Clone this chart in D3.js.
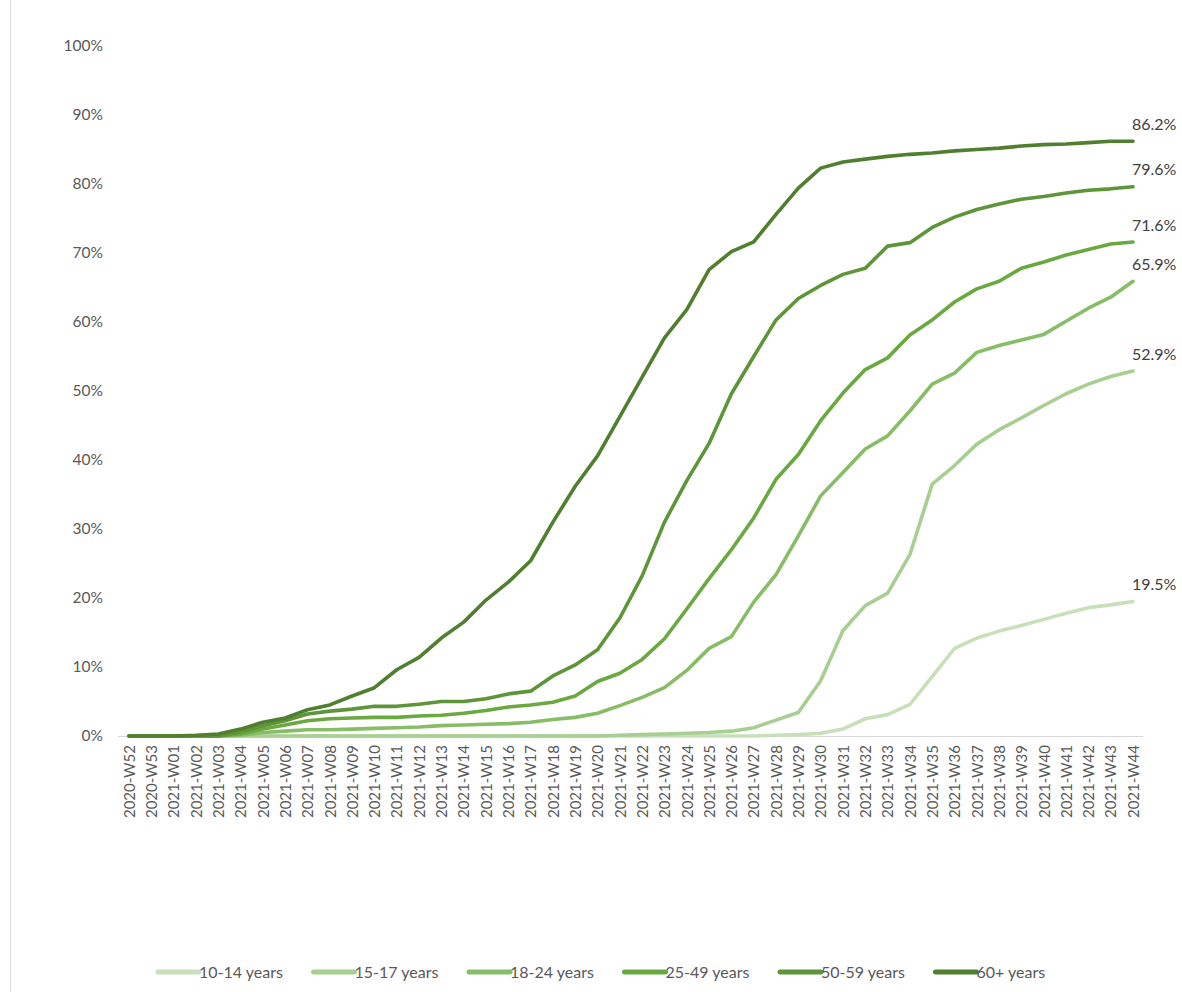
<!DOCTYPE html>
<html>
<head>
<meta charset="utf-8">
<script src="https://cdn.jsdelivr.net/npm/d3@7"></script>
<style>
  body { margin: 0; background: #fff; }
  svg { display: block; font-family: Lato, "Open Sans", sans-serif; }
</style>
</head>
<body>
<div id="chart"></div>
<script>
const weeks = ["2020-W52", "2020-W53"].concat(d3.range(1, 45).map(w => "2021-W" + String(w).padStart(2, "0")));

const groups = ["10-14 years", "15-17 years", "18-24 years", "25-49 years", "50-59 years", "60+ years"];
const colors = ["#c8e0ba", "#a8cf92", "#88bd67", "#6aa93f", "#5e9539", "#507f2f"];

const age10_14 = [0,0,0,0,0,0,0,0,0,0,0,0,0,0,0,0,0,0,0,0,0,0,0,0,0,0,0,0,0,0.1,0.2,0.4,1.0,2.5,3.1,4.6,8.6,12.7,14.2,15.2,16.0,16.9,17.8,18.6,19.0,19.5];
const age15_17 = [0,0,0,0,0,0,0,0,0,0,0,0,0,0,0,0,0,0,0,0,0,0,0.1,0.2,0.3,0.4,0.5,0.7,1.2,2.3,3.4,8.0,15.3,18.9,20.7,26.3,36.5,39.2,42.3,44.4,46.1,47.9,49.6,51.0,52.1,52.9];
const age18_24 = [0,0,0,0,0,0.1,0.5,0.7,0.9,0.9,1.0,1.1,1.2,1.3,1.5,1.6,1.7,1.8,2.0,2.4,2.7,3.3,4.4,5.6,7.0,9.5,12.7,14.4,19.4,23.4,29.0,34.8,38.2,41.6,43.5,47.1,51.0,52.6,55.6,56.6,57.4,58.2,60.1,62.0,63.6,65.9];
const age25_49 = [0,0,0,0,0,0.3,1.0,1.6,2.2,2.5,2.6,2.7,2.7,2.9,3.0,3.3,3.7,4.2,4.5,4.9,5.8,7.9,9.1,11.1,14.1,18.4,22.8,27.0,31.6,37.2,40.8,45.7,49.7,53.1,54.8,58.1,60.3,62.9,64.8,65.9,67.8,68.7,69.7,70.5,71.3,71.6];
const age50_59 = [0,0,0,0,0,0.6,1.5,2.2,3.2,3.6,3.9,4.3,4.3,4.6,5.0,5.0,5.4,6.1,6.5,8.7,10.3,12.5,17.1,23.2,31.0,37.0,42.4,49.6,55.0,60.3,63.4,65.3,66.9,67.8,71.0,71.5,73.7,75.2,76.3,77.1,77.8,78.2,78.7,79.1,79.3,79.6];
const age60p = [0,0,0,0.1,0.3,1.0,2.0,2.6,3.8,4.5,5.8,7.0,9.6,11.4,14.2,16.5,19.7,22.3,25.4,31.0,36.2,40.6,46.3,52.0,57.7,61.8,67.6,70.2,71.6,75.6,79.4,82.3,83.2,83.6,84.0,84.3,84.5,84.8,85.0,85.2,85.5,85.7,85.8,86.0,86.2,86.2];

const seriesValues = [age10_14, age15_17, age18_24, age25_49, age50_59, age60p];
const endLabels = ["19.5%", "52.9%", "65.9%", "71.6%", "79.6%", "86.2%"];
const yTicks = d3.range(0, 101, 10);

const W = 1182, H = 992;
const x0 = 129, x1 = 1133, yTop = 46, yBottom = 736;

const svg = d3.select("#chart").append("svg")
  .attr("width", W)
  .attr("height", H);

// chart area border (only left edge shows)
svg.append("line")
  .attr("x1", 10.5).attr("x2", 10.5)
  .attr("y1", 0).attr("y2", H)
  .attr("stroke", "#d9d9d9").attr("stroke-width", 1);

const x = d3.scalePoint().domain(weeks).range([x0, x1]);
const y = d3.scaleLinear().domain([0, 100]).range([yBottom, yTop]);

// y axis labels, no axis line
svg.append("g")
  .attr("transform", "translate(103,0)")
  .call(d3.axisLeft(y).tickValues(yTicks).tickSize(0).tickPadding(0).tickFormat(d => d + "%"))
  .call(g => g.select(".domain").remove())
  .call(g => g.selectAll("text").attr("fill", "#595959").style("font-size", "15.5px").style("font-family", "Lato, sans-serif"));

// x axis
svg.append("line")
  .attr("x1", 118).attr("x2", 1143)
  .attr("y1", yBottom + 0.5).attr("y2", yBottom + 0.5)
  .attr("stroke", "#d9d9d9").attr("stroke-width", 1);

svg.append("g")
  .attr("transform", `translate(0,${yBottom})`)
  .call(d3.axisBottom(x).tickSize(0).tickPadding(0))
  .call(g => g.select(".domain").remove())
  .call(g => g.selectAll("text")
    .attr("transform", "rotate(-90)")
    .attr("x", -9)
    .attr("y", 0)
    .attr("dy", "0.35em")
    .attr("text-anchor", "end")
    .attr("fill", "#595959")
    .style("font-size", "15px")
    .style("font-family", "Lato, sans-serif"));

const line = d3.line()
  .x((d, i) => x(weeks[i]))
  .y(d => y(d));

seriesValues.forEach((vals, k) => {
  svg.append("path")
    .datum(vals)
    .attr("fill", "none")
    .attr("stroke", colors[k])
    .attr("stroke-width", 3.6)
    .attr("stroke-linejoin", "round")
    .attr("stroke-linecap", "round")
    .attr("d", line);

  const last = vals[vals.length - 1];
  svg.append("text")
    .attr("x", x(weeks[weeks.length - 1]) - 1)
    .attr("y", y(last) - 17)
    .attr("dy", "0.35em")
    .attr("fill", "#404040")
    .style("font-size", "16px")
    .style("font-family", "Lato, sans-serif")
    .text(endLabels[k]);
});

// legend
const legend = svg.append("g").attr("transform", "translate(158,972)");
groups.forEach((g, k) => {
  const item = legend.append("g").attr("transform", `translate(${k * 155.5},0)`);
  item.append("line")
    .attr("x1", 0).attr("x2", 41)
    .attr("y1", 0).attr("y2", 0)
    .attr("stroke", colors[k])
    .attr("stroke-width", 5)
    .attr("stroke-linecap", "round");
  item.append("text")
    .attr("x", 41)
    .attr("y", 0)
    .attr("dy", "0.35em")
    .attr("fill", "#595959")
    .style("font-size", "16px")
    .style("font-family", "Lato, sans-serif")
    .text(g);
});
</script>
</body>
</html>
